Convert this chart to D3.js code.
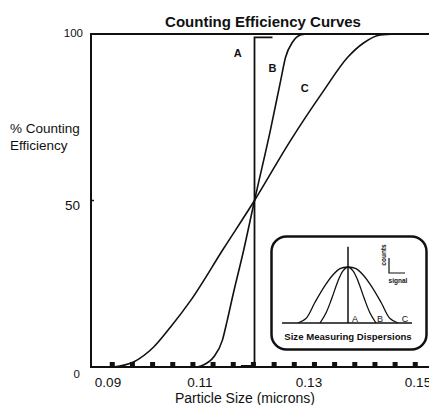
<!DOCTYPE html>
<html>
<head>
<meta charset="utf-8">
<script src="https://cdn.jsdelivr.net/npm/d3@7"></script>
<style>
  body { margin: 0; background: #fff; }
  text { font-family: "Liberation Sans", Arial, Helvetica, sans-serif; fill: #111; }
</style>
</head>
<body>
<div id="chart"></div>
<script>
const width = 429;
const height = 405;

// Counting efficiency curves (particle size in microns, % efficiency)
const curveA = [[0.1175, 0.3], [0.12, 0.3], [0.12, 99], [0.1233, 99]];
const curveB = [[0.1095, 0], [0.1106, 0.6], [0.1125, 3], [0.1141, 8], [0.115, 14], [0.1161, 22],
  [0.118, 35], [0.12, 50], [0.1229, 71], [0.1248, 86], [0.1257, 93], [0.127, 97.6], [0.1284, 99.7], [0.1295, 100]];
const curveC = [[0.0941, 0], [0.0978, 1.5], [0.1015, 6], [0.1046, 12], [0.1083, 20], [0.1143, 35.5],
  [0.12, 50], [0.1266, 68], [0.1327, 83], [0.1371, 93], [0.14, 97.3], [0.1431, 99.7], [0.146, 100]];
const curveLabels = [
  { name: "A", x: 0.1169, y: 93 },
  { name: "B", x: 0.1233, y: 88.5 },
  { name: "C", x: 0.1292, y: 82.5 }
];

const xTicks = [0.09, 0.11, 0.13, 0.15];
const yTicks = [0, 50, 100];
const minorTicks = [0.0939, 0.0976, 0.1013, 0.105, 0.1087, 0.1124, 0.1161, 0.1198,
  0.1236, 0.1273, 0.131, 0.1347, 0.1384, 0.1421, 0.1458, 0.1495];

// Inset: size measuring dispersions (offset from mean signal, relative counts)
const dispB = [[-28, 0], [-22, 0.18], [-16, 0.45], [-10, 0.75], [-5, 0.93], [0, 1],
  [5, 0.93], [10, 0.75], [16, 0.45], [22, 0.18], [28, 0]];
const dispC = [[-50, 0], [-42, 0.08], [-33, 0.37], [-24, 0.64], [-16, 0.84], [-8, 0.97], [0, 1],
  [8, 0.97], [16, 0.84], [24, 0.64], [33, 0.37], [42, 0.08], [50, 0]];
const dispA = [[0, 0], [0, 1.36]];
const dispLabels = [{ name: "A", x: 7 }, { name: "B", x: 32 }, { name: "C", x: 57 }];

const svg = d3.select("#chart").append("svg")
    .attr("width", width)
    .attr("height", height);

const x = d3.scaleLinear().domain([0.09, 0.155]).range([91, 445.25]);
const y = d3.scaleLinear().domain([0, 100]).range([367, 34]);

// title
svg.append("text")
    .attr("x", 263).attr("y", 27)
    .attr("text-anchor", "middle")
    .attr("font-size", 15).attr("font-weight", "bold")
    .text("Counting Efficiency Curves");

// frame: left, top, bottom
const frame = svg.append("g").attr("stroke", "#111").attr("stroke-width", 2).attr("fill", "none");
frame.append("line").attr("x1", x(0.09)).attr("x2", x(0.09)).attr("y1", y(100) - 1).attr("y2", y(0) + 1);
frame.append("line").attr("x1", x(0.09)).attr("x2", width).attr("y1", y(100)).attr("y2", y(100));
frame.append("line").attr("x1", x(0.09)).attr("x2", width).attr("y1", y(0)).attr("y2", y(0));

// minor tick squares on x axis
svg.selectAll(".minor")
    .data(minorTicks)
    .enter().append("rect")
    .attr("x", d => x(d) - 2.5)
    .attr("y", y(0) - 5)
    .attr("width", 5).attr("height", 5)
    .attr("fill", "#111");

// x tick labels
svg.selectAll(".xt")
    .data(xTicks)
    .enter().append("text")
    .attr("x", (d, i) => x(d) + (i === 0 ? 17 : 0))
    .attr("y", 387)
    .attr("text-anchor", "middle")
    .attr("font-size", 13.5)
    .text(d => d3.format(".2f")(d));

// y tick labels
svg.selectAll(".yt")
    .data(yTicks)
    .enter().append("text")
    .attr("x", d => d === 100 ? 83 : 80)
    .attr("y", d => y(d) + (d === 0 ? 11 : d === 50 ? 9 : 3))
    .attr("text-anchor", "end")
    .attr("font-size", d => d === 50 ? 13.5 : 11.5)
    .text(d => d);

svg.append("line")
    .attr("x1", x(0.09)).attr("x2", x(0.09) + 3)
    .attr("y1", y(50)).attr("y2", y(50))
    .attr("stroke", "#111").attr("stroke-width", 1.5);

// axis titles
svg.append("text").attr("x", 10).attr("y", 133).attr("font-size", 13.5).text("% Counting");
svg.append("text").attr("x", 10).attr("y", 150).attr("font-size", 13.5).text("Efficiency");
svg.append("text")
    .attr("x", 245).attr("y", 403)
    .attr("text-anchor", "middle")
    .attr("font-size", 14)
    .text("Particle Size (microns)");

// curves
const line = d3.line().x(d => x(d[0])).y(d => y(d[1]));
const smooth = d3.line().x(d => x(d[0])).y(d => y(d[1])).curve(d3.curveMonotoneX);

svg.append("path").datum(curveA).attr("d", line)
    .attr("fill", "none").attr("stroke", "#111").attr("stroke-width", 1.8);
[curveB, curveC].forEach(c => {
    svg.append("path").datum(c).attr("d", smooth)
        .attr("fill", "none").attr("stroke", "#111").attr("stroke-width", 1.6);
});

svg.selectAll(".cl")
    .data(curveLabels)
    .enter().append("text")
    .attr("x", d => x(d.x)).attr("y", d => y(d.y))
    .attr("text-anchor", "middle")
    .attr("font-size", 11).attr("font-weight", "bold")
    .text(d => d.name);

// inset
const inset = svg.append("g");
inset.append("rect")
    .attr("x", 271.5).attr("y", 236.5)
    .attr("width", 155).attr("height", 113)
    .attr("rx", 15).attr("ry", 15)
    .attr("fill", "#fff").attr("stroke", "#111").attr("stroke-width", 2.5);

const ix = d3.scaleLinear().domain([-66, 64]).range([282, 412]);
const iy = d3.scaleLinear().domain([0, 1]).range([323, 267]);
const iline = d3.line().x(d => ix(d[0])).y(d => iy(d[1]));
const ismooth = d3.line().x(d => ix(d[0])).y(d => iy(d[1])).curve(d3.curveCatmullRom);

inset.append("line")
    .attr("x1", ix(-66)).attr("x2", ix(64))
    .attr("y1", iy(0)).attr("y2", iy(0))
    .attr("stroke", "#111").attr("stroke-width", 1.3);
inset.append("path").datum(dispA).attr("d", iline)
    .attr("fill", "none").attr("stroke", "#111").attr("stroke-width", 1.5);
[dispB, dispC].forEach(c => {
    inset.append("path").datum(c).attr("d", ismooth)
        .attr("fill", "none").attr("stroke", "#111").attr("stroke-width", 1.3);
});

inset.selectAll(".dl")
    .data(dispLabels)
    .enter().append("text")
    .attr("x", d => ix(d.x)).attr("y", iy(0) - 1.5)
    .attr("text-anchor", "middle")
    .attr("font-size", 9)
    .text(d => d.name);

// mini counts/signal axes
inset.append("path")
    .attr("d", "M389,258V273H405")
    .attr("fill", "none").attr("stroke", "#111").attr("stroke-width", 1.2);
inset.append("text")
    .attr("transform", "translate(386,255) rotate(-90)")
    .attr("text-anchor", "middle")
    .attr("font-size", 6.5).attr("font-weight", "bold")
    .text("counts");
inset.append("text")
    .attr("x", 398).attr("y", 283)
    .attr("text-anchor", "middle")
    .attr("font-size", 6.5).attr("font-weight", "bold")
    .text("signal");

inset.append("text")
    .attr("x", 348).attr("y", 339.5)
    .attr("text-anchor", "middle")
    .attr("font-size", 9.6).attr("font-weight", "bold")
    .text("Size Measuring Dispersions");
</script>
</body>
</html>
